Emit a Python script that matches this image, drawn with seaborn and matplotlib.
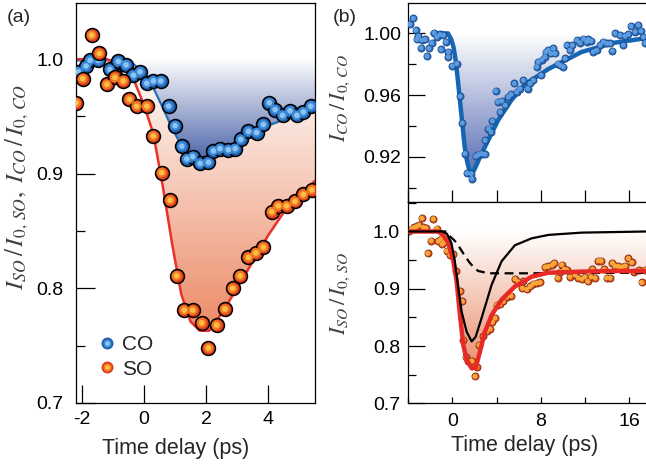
import numpy as np
import matplotlib
matplotlib.use('Agg')
import matplotlib.pyplot as plt
import seaborn as sns
from matplotlib.colors import LinearSegmentedColormap
from matplotlib.lines import Line2D
from matplotlib.legend_handler import HandlerTuple
from matplotlib.ticker import MultipleLocator, FormatStrFormatter

# ---- panel (a): short delay range ----
co_t = [-2.12, -1.87, -1.74, -1.47, -1.10, -0.94, -0.83, -0.58, -0.34, -0.13, 0.09, 0.30,
        0.54, 0.79, 1.00, 1.22, 1.38, 1.57, 1.81, 2.08, 2.24, 2.45, 2.72, 2.94, 3.12, 3.37,
        3.63, 3.85, 4.04, 4.23, 4.47, 4.71, 4.93, 5.14, 5.38]
co_y = [0.989, 0.994, 0.999, 0.999, 0.991, 0.986, 0.998, 0.995, 0.986, 0.989, 0.979, 0.981,
        0.981, 0.959, 0.942, 0.924, 0.913, 0.915, 0.909, 0.910, 0.920, 0.922, 0.921, 0.922,
        0.930, 0.937, 0.936, 0.943, 0.962, 0.956, 0.951, 0.955, 0.951, 0.954, 0.959]
so_t = [-2.19, -1.98, -1.69, -1.44, -1.20, -0.94, -0.67, -0.47, -0.24, 0.09, 0.30, 0.57,
        0.84, 1.05, 1.30, 1.57, 1.86, 2.08, 2.34, 2.61, 2.86, 3.10, 3.37, 3.61, 3.85, 4.12,
        4.33, 4.60, 4.87, 5.14, 5.41]
so_y = [0.962, 0.983, 1.021, 1.005, 0.978, 0.984, 0.981, 0.965, 0.959, 0.959, 0.933, 0.901,
        0.877, 0.811, 0.781, 0.781, 0.770, 0.748, 0.768, 0.782, 0.800, 0.811, 0.827, 0.831,
        0.836, 0.867, 0.872, 0.872, 0.876, 0.882, 0.886]
fit_co_a_t = [-2.2, -1.0, -0.4, 0.0, 0.3, 0.6, 0.9, 1.2, 1.5, 1.8, 2.1, 2.5, 3.0, 3.5, 4.0,
              4.5, 5.0, 5.52]
fit_co_a_y = [0.999, 0.999, 0.997, 0.988, 0.975, 0.958, 0.940, 0.925, 0.915, 0.911, 0.912,
              0.918, 0.927, 0.935, 0.942, 0.947, 0.951, 0.955]
fit_so_a_t = [-2.2, -1.2, -0.6, -0.3, 0.0, 0.3, 0.6, 0.75, 0.9, 1.2, 1.5, 1.8, 2.1, 2.5, 3.0,
              3.5, 4.0, 4.5, 5.0, 5.52]
fit_so_a_y = [1.000, 1.000, 0.993, 0.980, 0.960, 0.935, 0.890, 0.865, 0.840, 0.795, 0.771,
              0.763, 0.763, 0.778, 0.800, 0.823, 0.846, 0.866, 0.881, 0.894]

# ---- panel (b): long delay range ----
co_b_t = [-3.85, -3.55, -3.34, -3.09, -3.24, -2.79, -2.85, -2.49, -2.31, -2.13, -1.89, -1.65,
          -1.43, -1.13, -1.04, -0.83, -0.62, -0.38, -0.38, -0.02, 0.38, 0.68, 0.89, 1.13,
          1.31, 1.68, 1.74, 2.10, 2.34, 2.64, 2.94, 2.94, 3.25, 3.49, 3.61, 3.91, 4.09, 4.45,
          4.30, 4.76, 5.06, 5.30, 5.60, 5.81, 6.11, 6.42, 6.81, 7.02, 7.32, 7.62, 8.02, 7.77,
          8.08, 8.38, 8.44, 8.68, 8.92, 9.13, 9.28, 9.53, 9.74, 10.04, 10.19, 10.34, 10.64,
          10.85, 11.25, 11.55, 11.85, 12.15, 12.30, 12.55, 12.76, 13.06, 13.36, 13.66, 13.96,
          14.27, 14.48, 14.72, 15.17, 15.47, 15.63, 15.93, 16.17, 16.53, 16.83, 17.07, 17.29,
          17.44]
co_b_y = [1.0060, 1.0097, 1.0021, 0.9982, 0.9961, 0.9957, 0.9907, 0.9961, 0.9853, 0.9903,
          0.9939, 1.0004, 0.9978, 0.9993, 0.9896, 0.9989, 0.9946, 0.9881, 0.9849, 0.9790,
          0.9805, 0.9593, 0.9420, 0.9222, 0.9096, 0.9092, 0.9060, 0.9204, 0.9215, 0.9222,
          0.9217, 0.9308, 0.9384, 0.9362, 0.9434, 0.9628, 0.9557, 0.9563, 0.9492, 0.9535,
          0.9589, 0.9606, 0.9676, 0.9622, 0.9643, 0.9697, 0.9643, 0.9676, 0.9697, 0.9784,
          0.9730, 0.9816, 0.9831, 0.9849, 0.9881, 0.9892, 0.9870, 0.9903, 0.9870, 0.9805,
          0.9794, 0.9784, 0.9838, 0.9924, 0.9892, 0.9924, 0.9957, 0.9939, 0.9967, 0.9946,
          0.9961, 0.9952, 0.9881, 0.9892, 0.9924, 0.9946, 0.9935, 0.9935, 0.9887, 1.0000,
          0.9989, 0.9924, 0.9982, 0.9995, 1.0047, 1.0011, 1.0054, 1.0017, 0.9978, 0.9939]
so_b_t = [-3.94, -3.70, -3.46, -3.25, -3.03, -2.79, -2.64, -2.43, -2.25, -1.95, -1.74, -1.43,
          -1.28, -1.04, -0.92, -0.74, -0.53, -0.23, 0.08, 0.29, 0.68, 0.89, 0.98, 1.19, 1.43,
          1.74, 2.04, 2.19, 2.40, 2.79, 3.10, 3.40, 3.61, 3.85, 4.00, 4.30, 4.60, 4.91, 5.30,
          5.66, 5.96, 6.33, 6.42, 6.72, 7.02, 7.32, 7.62, 7.93, 8.38, 8.68, 9.04, 9.22, 9.53,
          9.89, 9.74, 10.13, 10.34, 10.64, 11.10, 11.40, 11.70, 12.00, 12.24, 12.55, 12.91,
          12.67, 13.21, 13.45, 13.75, 13.96, 14.27, 14.48, 14.72, 15.02, 15.32, 15.63, 15.93,
          16.23, 16.47, 16.89, 17.13, 17.44]
so_b_y = [1.000, 1.005, 1.007, 1.009, 1.011, 1.023, 1.007, 1.006, 0.962, 0.984, 1.022, 1.005,
          0.983, 0.987, 0.978, 0.981, 0.966, 0.959, 0.960, 0.931, 0.896, 0.878, 0.811, 0.780,
          0.773, 0.774, 0.747, 0.764, 0.802, 0.817, 0.826, 0.830, 0.842, 0.849, 0.872, 0.873,
          0.878, 0.886, 0.888, 0.917, 0.912, 0.901, 0.913, 0.899, 0.904, 0.909, 0.910, 0.911,
          0.938, 0.939, 0.942, 0.945, 0.919, 0.942, 0.930, 0.934, 0.933, 0.921, 0.924, 0.919,
          0.917, 0.921, 0.913, 0.921, 0.919, 0.934, 0.949, 0.949, 0.934, 0.919, 0.919, 0.945,
          0.940, 0.939, 0.938, 0.940, 0.953, 0.946, 0.930, 0.932, 0.911, 0.933]
fit_co_b_t = [-1.8, -0.4, -0.1, 0.1, 0.3, 0.5, 0.7, 0.9, 1.1, 1.3, 1.5, 1.75, 2.0, 2.5, 3.25,
              4.15, 5.36, 6.57, 8.7, 11.7, 14.7, 17.6]
fit_co_b_y = [1.000, 1.000, 0.996, 0.991, 0.982, 0.969, 0.955, 0.941, 0.927, 0.918, 0.912,
              0.909, 0.912, 0.920, 0.931, 0.944, 0.957, 0.967, 0.977, 0.988, 0.994, 0.997]
fit_so_b_t = [-4.0, -1.3, -0.83, -0.38, 0.08, 0.38, 0.68, 0.98, 1.28, 1.74, 2.1, 2.49, 2.94,
              3.55, 4.45, 5.66, 7.17, 8.68, 11.7, 14.7, 17.6]
fit_so_b_y = [1.000, 1.000, 0.994, 0.980, 0.948, 0.913, 0.854, 0.802, 0.776, 0.761, 0.762,
              0.790, 0.825, 0.854, 0.881, 0.904, 0.921, 0.928, 0.930, 0.931, 0.931]
solid_t = [-4.0, -0.9, -0.5, -0.1, 0.2, 0.53, 0.83, 1.28, 1.74, 2.10, 2.64, 3.55, 4.45, 5.66,
           7.17, 8.68, 11.7, 17.6]
solid_y = [1.000, 1.000, 0.996, 0.980, 0.950, 0.901, 0.860, 0.825, 0.808, 0.816, 0.849, 0.907,
           0.948, 0.976, 0.988, 0.994, 0.998, 1.000]
dash_t = [-4.0, -0.6, -0.2, 0.2, 0.68, 1.1, 1.58, 2.0, 2.34, 3.25, 6.57, 17.6]
dash_y = [1.000, 1.000, 0.991, 0.984, 0.971, 0.958, 0.945, 0.936, 0.931, 0.927, 0.927, 0.928]

BLUE_BALL = ['#1f5fae', '#3c88d6', '#8cc4f2']
RED_BALL = ['#e03a1e', '#f07a22', '#fbbf45']

sns.set_theme(style='ticks')
plt.rcParams['font.family'] = ['Liberation Sans', 'DejaVu Sans']
plt.rcParams['mathtext.fontset'] = 'stix'
plt.rcParams['axes.unicode_minus'] = False


def balls(ax, t, y, s, colors, edge, lw, z):
    # fake shaded spheres: stacked markers getting smaller and lighter
    fracs = [1.0, 0.5, 0.16]
    for i, c in enumerate(colors):
        sns.scatterplot(x=t, y=y, s=s * fracs[i], color=c,
                        edgecolor=edge if i == 0 else 'none',
                        linewidth=lw if i == 0 else 0, ax=ax, zorder=z + 0.01 * i,
                        legend=False)


def grad_fill(ax, t, y, top, bottom, color, z):
    poly = ax.fill_between(t, y, top, facecolor='none', edgecolor='none')
    path = poly.get_paths()[0]
    cmap = LinearSegmentedColormap.from_list('g', ['white', color])
    grad = np.linspace(1, 0, 256).reshape(-1, 1)
    im = ax.imshow(grad, cmap=cmap, aspect='auto', origin='lower',
                   extent=[min(t), max(t), bottom, top], zorder=z)
    im.set_clip_path(path, transform=ax.transData)


def style(ax):
    for sp in ax.spines.values():
        sp.set_color('black')
        sp.set_linewidth(0.9)
    ax.tick_params(which='both', direction='in', width=0.9, colors='black', labelsize=14)


fig = plt.figure(figsize=(6.46, 4.65), dpi=100)
ax_a = fig.add_axes([76 / 646, 1 - 403 / 465, 239 / 646, 400 / 465])
ax_b1 = fig.add_axes([408.3 / 646, 1 - 201.7 / 465, 237.7 / 646, 198.7 / 465])
ax_b2 = fig.add_axes([408.3 / 646, 1 - 403.3 / 465, 237.7 / 646, 201.6 / 465])

# ---------- (a) ----------
grad_fill(ax_a, fit_so_a_t, fit_so_a_y, 1.0, 0.762, '#ec8a66', 1)
grad_fill(ax_a, fit_co_a_t, fit_co_a_y, 1.0, 0.91, '#4a62a8', 1.5)
sns.lineplot(x=fit_co_a_t, y=fit_co_a_y, ax=ax_a, color='#1f70b8', lw=1.6, sort=False,
             estimator=None, zorder=2)
sns.lineplot(x=fit_so_a_t, y=fit_so_a_y, ax=ax_a, color='#e8312a', lw=1.8, sort=False,
             estimator=None, zorder=2)
balls(ax_a, co_t, co_y, 100, BLUE_BALL, 'black', 1.1, 3)
balls(ax_a, so_t, so_y, 100, RED_BALL, 'black', 1.1, 4)

ax_a.set_xlim(-2.194, 5.516)
ax_a.set_ylim(0.7, 1.049)
style(ax_a)
ax_a.xaxis.set_major_locator(MultipleLocator(2))
ax_a.yaxis.set_major_locator(MultipleLocator(0.1))
ax_a.yaxis.set_minor_locator(MultipleLocator(0.05))
ax_a.yaxis.set_major_formatter(FormatStrFormatter('%.1f'))
ax_a.tick_params(axis='y', which='major', length=13.5, pad=9)
ax_a.tick_params(axis='y', which='minor', length=6.5)
ax_a.tick_params(axis='x', which='major', length=13, pad=6)
ax_a.set_xlabel('Time delay (ps)', fontsize=15.5)
ax_a.xaxis.set_label_coords(0.418, -0.088)
ax_a.set_ylabel(r'$I_{SO}\,/\,I_{0,\,SO},\;I_{CO}\,/\,I_{0,\,CO}$', fontsize=18,
                color='#404040')
ax_a.yaxis.set_label_coords(-0.19, 0.54)

h_co = tuple(Line2D([], [], marker='o', ls='', ms=8.6 * f, mfc=c, mec='none')
             for c, f in zip(BLUE_BALL, [1.0, 0.7, 0.4]))
h_so = tuple(Line2D([], [], marker='o', ls='', ms=8.6 * f, mfc=c, mec='none')
             for c, f in zip(RED_BALL, [1.0, 0.7, 0.4]))
ax_a.legend([h_co, h_so], ['CO', 'SO'], handler_map={tuple: HandlerTuple(ndivide=1, pad=0)},
            loc='lower left', bbox_to_anchor=(0.045, 0.035), frameon=False, fontsize=15,
            handlelength=0.9, handletextpad=0.3, labelspacing=0.25, borderpad=0)

# ---------- (b) top ----------
grad_fill(ax_b1, fit_co_b_t, fit_co_b_y, 1.0, 0.909, '#5a6fb4', 1)
sns.lineplot(x=fit_co_b_t, y=fit_co_b_y, ax=ax_b1, color='#1565b5', lw=3.2, sort=False,
             estimator=None, zorder=2)
balls(ax_b1, co_b_t, co_b_y, 26, ['#2a68b8', '#5b9be0'], '#1a4a8a', 0.6, 3)
ax_b1.set_xlim(-4, 17.53)
ax_b1.set_ylim(0.891, 1.0197)
style(ax_b1)
ax_b1.spines['right'].set_visible(False)
ax_b1.xaxis.set_major_locator(MultipleLocator(4))
ax_b1.tick_params(axis='x', labelbottom=False, length=8.5)
ax_b1.yaxis.set_major_locator(MultipleLocator(0.04))
ax_b1.yaxis.set_minor_locator(MultipleLocator(0.02))
ax_b1.yaxis.set_major_formatter(FormatStrFormatter('%.2f'))
ax_b1.tick_params(axis='y', which='major', length=12, pad=5)
ax_b1.tick_params(axis='y', which='minor', length=5.8)
ax_b1.set_ylabel(r'$I_{CO}\,/\,I_{0,\,CO}$', fontsize=16, color='#404040')
ax_b1.yaxis.set_label_coords(-0.235, 0.52)

# ---------- (b) bottom ----------
grad_fill(ax_b2, fit_so_b_t, fit_so_b_y, 1.0, 0.761, '#ea8e6c', 1)
balls(ax_b2, so_b_t, so_b_y, 26, ['#e8501e', '#f8a838'], '#7a2a10', 0.6, 2)
sns.lineplot(x=dash_t, y=dash_y, ax=ax_b2, color='black', lw=1.6, linestyle=(0, (4, 2.5)),
             sort=False, estimator=None, zorder=3)
sns.lineplot(x=fit_so_b_t, y=fit_so_b_y, ax=ax_b2, color='#e82a26', lw=3.2, sort=False,
             estimator=None, zorder=4)
sns.lineplot(x=solid_t, y=solid_y, ax=ax_b2, color='black', lw=1.6, sort=False,
             estimator=None, zorder=5)
ax_b2.set_xlim(-4, 17.53)
ax_b2.set_ylim(0.7, 1.052)
style(ax_b2)
ax_b2.spines['right'].set_visible(False)
ax_b2.xaxis.set_major_locator(MultipleLocator(8))
ax_b2.xaxis.set_minor_locator(MultipleLocator(4))
ax_b2.tick_params(axis='x', which='both', length=4, pad=7)
ax_b2.yaxis.set_major_locator(MultipleLocator(0.1))
ax_b2.yaxis.set_minor_locator(MultipleLocator(0.05))
ax_b2.yaxis.set_major_formatter(FormatStrFormatter('%.1f'))
ax_b2.tick_params(axis='y', which='major', length=12, pad=6)
ax_b2.tick_params(axis='y', which='minor', length=5.8)
ax_b2.set_xlabel('Time delay (ps)', fontsize=15.5)
ax_b2.xaxis.set_label_coords(0.491, -0.155)
ax_b2.set_ylabel(r'$I_{SO}\,/\,I_{0,\,SO}$', fontsize=16, color='#404040')
ax_b2.yaxis.set_label_coords(-0.235, 0.547)

fig.text(7 / 646, 1 - 9 / 465, '(a)', fontsize=14, va='top', ha='left')
fig.text(333 / 646, 1 - 9 / 465, '(b)', fontsize=14, va='top', ha='left')

fig.savefig('out.png', dpi=100)
